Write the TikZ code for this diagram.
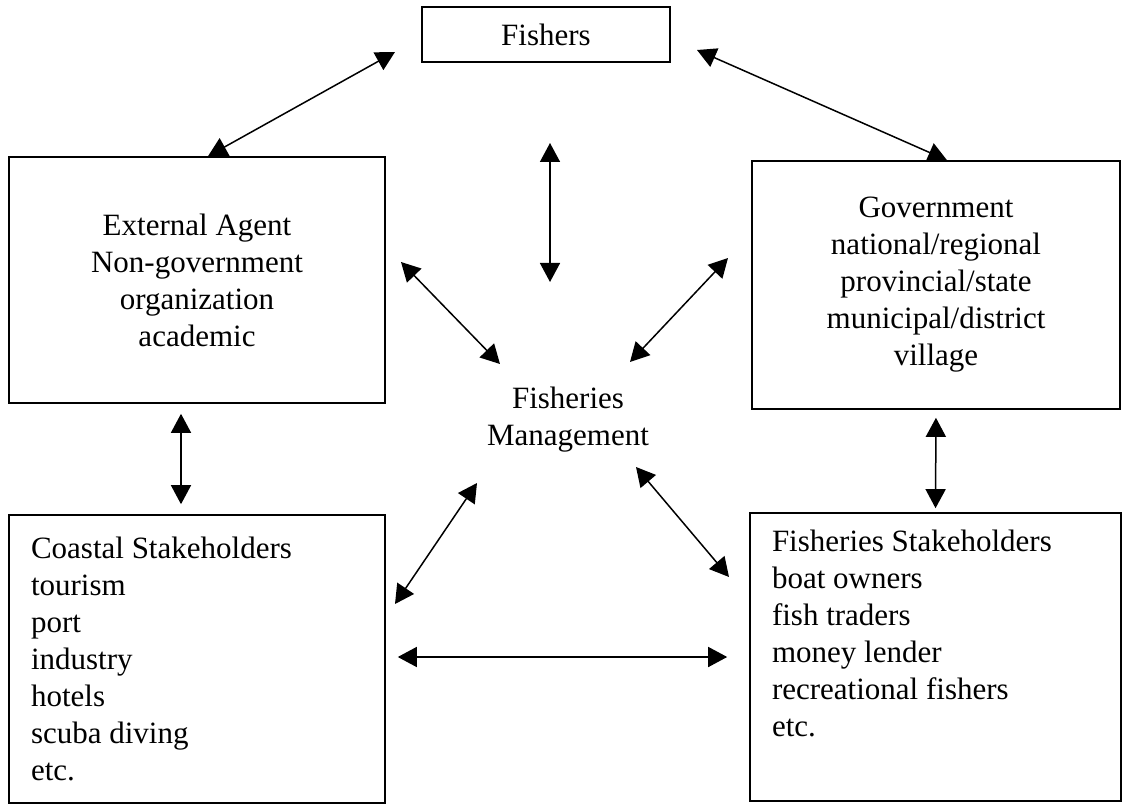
\documentclass[tikz,border=0pt]{standalone}
\usepackage{fontspec}
\setmainfont{Liberation Serif}
\usetikzlibrary{arrows.meta}
\begin{document}
\begin{tikzpicture}[x=1pt,y=-1pt,
  every node/.style={font=\fontsize{31}{37}\selectfont},
  box/.style={draw,line width=1.6pt,inner sep=0pt},
  listbox/.style={box,align=flush left,inner xsep=22pt,minimum height=288pt},
  link/.style={{Triangle[length=19pt,width=20pt]}-{Triangle[length=19pt,width=20pt]},line width=1.5pt}]
\useasboundingbox (0,0) rectangle (1125,805);
% groups
\node[box,minimum width=248pt,minimum height=55pt] (fishers) at (546,34.5) {Fishers};
\node[box,align=center,minimum width=376pt,minimum height=246pt] (external) at (197,280)
  {External Agent\\Non-government\\organization\\academic};
\node[box,align=center,minimum width=368pt,minimum height=248pt] (government) at (936,285)
  {Government\\national/regional\\provincial/state\\municipal/district\\village};
\node[align=center] (fm) at (568,420) {Fisheries\\Management};
\node[listbox,text width=332pt] (coastal) at (197,659)
  {Coastal Stakeholders\\tourism\\port\\industry\\hotels\\scuba diving\\etc.};
\node[listbox,text width=327pt] (fishstake) at (935.5,657)
  {Fisheries Stakeholders\\boat owners\\fish traders\\money lender\\recreational fishers\\etc.\\\strut};
% free ends
\coordinate (fw) at (395,52);
\coordinate (fe) at (697,50);
\coordinate (fs) at (550,143);
\coordinate (mn) at (550,282);
\coordinate (ew) at (401,262);
\coordinate (mnw) at (500,364);
\coordinate (gw) at (728,258);
\coordinate (mne) at (630,362);
\coordinate (msw) at (477,483);
\coordinate (cw) at (395,604);
\coordinate (mse) at (636,467);
\coordinate (sw) at (729,577);
% links
\draw[link] ([xshift=11pt]external.north) -- (fw);
\draw[link] (fe) -- ([xshift=11pt]government.north);
\draw[link] (fs) -- (mn);
\draw[link] (ew) -- (mnw);
\draw[link] (gw) -- (mne);
\draw[link,shorten <=10pt,shorten >=10pt] ([xshift=-16pt]external.south) -- ([xshift=-16pt]coastal.north);
\draw[link,shorten <=8pt,shorten >=4pt] (government.south) -- (fishstake.north);
\draw[link] (cw) -- (msw);
\draw[link] (mse) -- (sw);
\draw[link,shorten <=12pt,shorten >=22pt] (coastal.east |- fishstake.west) -- (fishstake.west);
\end{tikzpicture}
\end{document}
